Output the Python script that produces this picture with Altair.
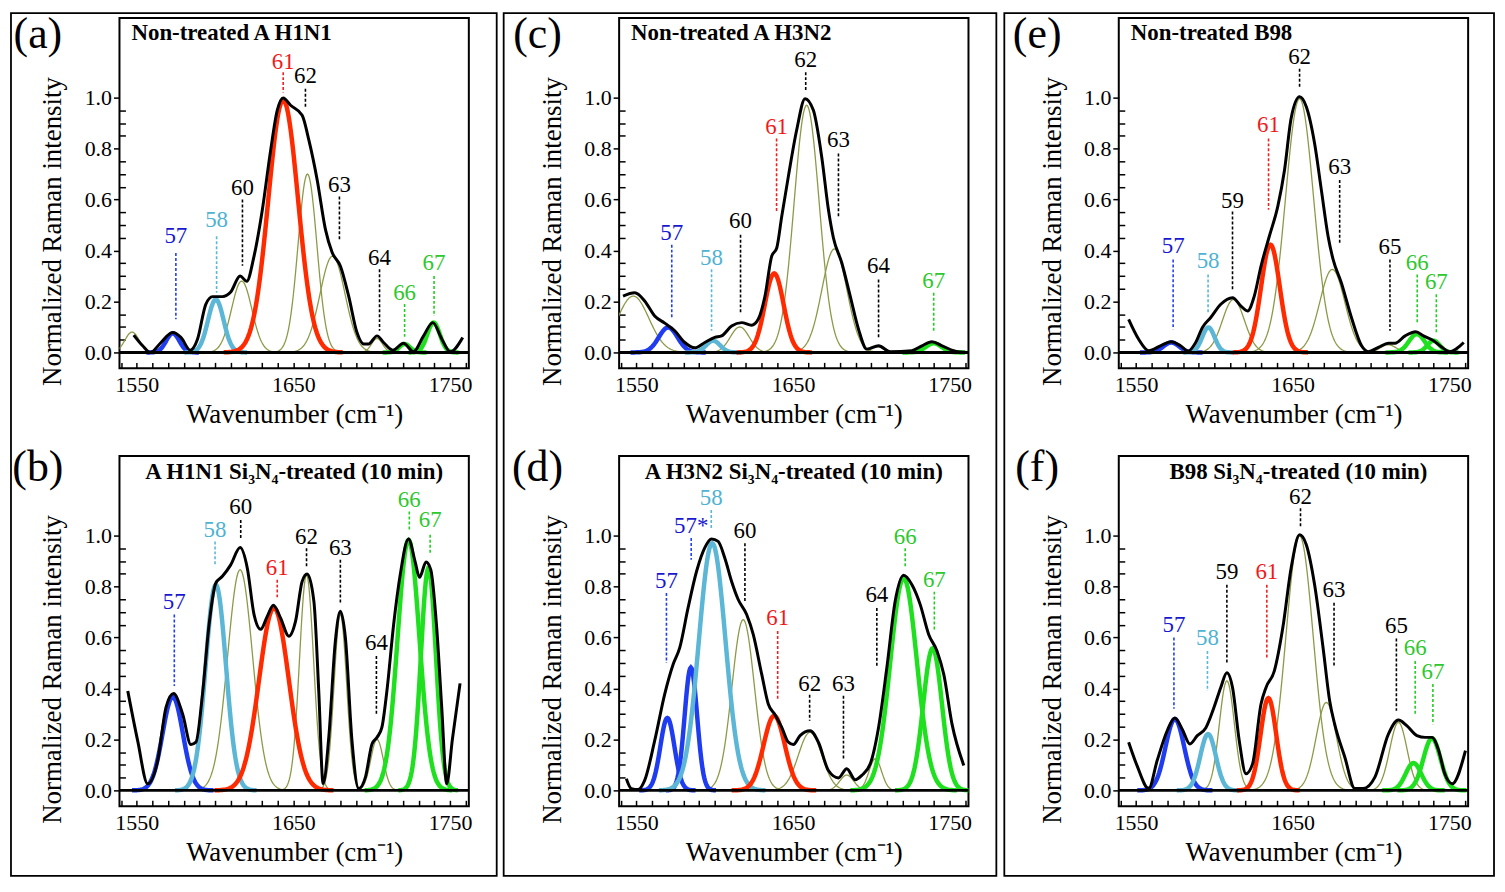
import numpy as np
import pandas as pd
import altair as alt

# ---------------- data ----------------
# Panel (a) Non-treated A H1N1
A_BLACK_X = [1548.1, 1553.8, 1558.7, 1565.5, 1572.9, 1578.2, 1584.2, 1588.8, 1594.1, 1598.4, 1604.7, 1610.0, 1616.0, 1620.2, 1624.9, 1630.2, 1635.5, 1639.7, 1643.5, 1648.2, 1655.6, 1659.9, 1665.2, 1670.5, 1674.7, 1680.0, 1685.3, 1690.6, 1694.9, 1698.0, 1703.4, 1707.6, 1713.5, 1720.3, 1726.7, 1733.1, 1739.0, 1744.8, 1750.1, 1758.1]
A_BLACK_Y = [0.068, 0.026, 0.0, 0.039, 0.078, 0.059, 0.009, 0.052, 0.189, 0.219, 0.219, 0.237, 0.30, 0.279, 0.378, 0.56, 0.794, 0.95, 0.999, 0.97, 0.931, 0.833, 0.677, 0.482, 0.393, 0.339, 0.221, 0.078, 0.033, 0.033, 0.065, 0.039, 0.009, 0.036, 0.003, 0.065, 0.117, 0.052, 0.003, 0.059]
A_PEAK_NAME = ["edge", "57", "58", "60", "61", "62", "63", "64", "66", "67"]
A_PEAK_POS = [1547, 1573, 1600.5, 1617, 1643.5, 1659, 1675, 1703.4, 1721, 1739.5]
A_PEAK_HEIGHT = [0.08, 0.075, 0.208, 0.28, 0.99, 0.70, 0.378, 0.055, 0.033, 0.117]
A_PEAK_WIDTH = [4.5, 4.2, 5.0, 6.5, 9.5, 6.0, 8.0, 3.5, 3.5, 4.0]
A_LABEL_TEXT = ["57", "58", "60", "61", "62", "63", "64", "66", "67"]
A_LABEL_X = [1575, 1601, 1617.5, 1643.5, 1657.7, 1679.4, 1705, 1721, 1739.8]
A_LABEL_TEXT_Y = [0.456, 0.52, 0.645, 1.14, 1.083, 0.657, 0.371, 0.234, 0.352]
A_LABEL_TOP = [0.39, 0.456, 0.60, 1.10, 1.035, 0.612, 0.326, 0.19, 0.30]
A_LABEL_BOTTOM = [0.13, 0.234, 0.34, 1.02, 0.957, 0.436, 0.085, 0.059, 0.143]

# Panel (b) A H1N1 Si3N4-treated
B_BLACK_X = [1544.3, 1550.6, 1557.0, 1563.4, 1568.7, 1573.5, 1579.3, 1584.6, 1587.8, 1592.0, 1596.2, 1600.5, 1604.7, 1610.0, 1616.0, 1620.6, 1624.9, 1629.1, 1633.4, 1637.2, 1641.8, 1647.1, 1651.4, 1655.6, 1658.8, 1663.1, 1666.2, 1669.0, 1672.6, 1676.8, 1680.0, 1683.2, 1687.4, 1691.7, 1696.0, 1700.2, 1703.4, 1706.5, 1709.7, 1714.0, 1718.2, 1723.5, 1727.7, 1730.5, 1734.7, 1737.7, 1741.5, 1744.7, 1747.9, 1751.5, 1756.4]
B_BLACK_Y = [0.39, 0.195, 0.026, 0.117, 0.326, 0.38, 0.30, 0.18, 0.189, 0.378, 0.651, 0.814, 0.84, 0.885, 0.953, 0.872, 0.69, 0.632, 0.684, 0.727, 0.677, 0.605, 0.664, 0.82, 0.849, 0.742, 0.39, 0.026, 0.208, 0.586, 0.703, 0.599, 0.195, 0.007, 0.052, 0.182, 0.208, 0.247, 0.39, 0.651, 0.846, 0.987, 0.898, 0.836, 0.896, 0.866, 0.638, 0.326, 0.026, 0.20, 0.42]
B_PEAK_NAME = ["57", "58", "60", "61", "62", "63", "64", "66", "67"]
B_PEAK_POS = [1573, 1600.5, 1616, 1637.6, 1658.4, 1680, 1703.4, 1723.5, 1736.2]
B_PEAK_HEIGHT = [0.367, 0.807, 0.866, 0.716, 0.846, 0.69, 0.20, 0.983, 0.872]
B_PEAK_WIDTH = [6.5, 6.5, 8.0, 9.5, 4.5, 4.0, 4.0, 7.0, 4.8]
B_LABEL_TEXT = ["57", "58", "60", "61", "62", "63", "64", "66", "67"]
B_LABEL_X = [1574, 1600, 1616.4, 1639.7, 1658.4, 1680, 1703, 1724, 1737.3]
B_LABEL_TEXT_Y = [0.738, 1.022, 1.113, 0.872, 0.996, 0.95, 0.579, 1.139, 1.061]
B_LABEL_TOP = [0.69, 0.977, 1.061, 0.827, 0.95, 0.905, 0.527, 1.094, 1.003]
B_LABEL_BOTTOM = [0.41, 0.885, 0.99, 0.758, 0.872, 0.73, 0.30, 1.022, 0.93]

# Panel (c) Non-treated A H3N2
C_BLACK_X = [1541.5, 1549.0, 1555.3, 1561.7, 1568.1, 1574.5, 1580.9, 1587.3, 1593.7, 1600.1, 1604.4, 1610.8, 1617.2, 1623.6, 1627.8, 1632.1, 1636.4, 1639.6, 1642.8, 1647.0, 1652.3, 1657.7, 1663.0, 1668.3, 1672.6, 1675.8, 1681.1, 1686.5, 1691.8, 1697.1, 1704.6, 1712.0, 1725.9, 1732.3, 1738.7, 1745.1, 1753.6, 1761.1]
C_BLACK_Y = [0.221, 0.234, 0.202, 0.143, 0.115, 0.085, 0.039, 0.018, 0.039, 0.059, 0.065, 0.104, 0.117, 0.107, 0.13, 0.221, 0.378, 0.41, 0.534, 0.69, 0.872, 0.996, 0.95, 0.768, 0.56, 0.449, 0.352, 0.221, 0.091, 0.013, 0.026, 0.003, 0.007, 0.026, 0.042, 0.026, 0.005, 0.0]
C_PEAK_NAME = ["edge", "57", "58", "60", "61", "62", "63", "64", "67"]
C_PEAK_POS = [1548, 1570.3, 1599, 1616, 1638, 1658.7, 1676.4, 1704, 1739.8]
C_PEAK_HEIGHT = [0.221, 0.098, 0.046, 0.10, 0.31, 0.97, 0.406, 0.022, 0.036]
C_PEAK_WIDTH = [10, 6, 4.5, 6, 6, 8, 8, 4, 5]
C_LABEL_TEXT = ["57", "58", "60", "61", "62", "63", "64", "67"]
C_LABEL_X = [1572.6, 1598, 1616.5, 1639.5, 1658.1, 1679, 1704.6, 1739.8]
C_LABEL_TEXT_Y = [0.469, 0.371, 0.514, 0.885, 1.146, 0.833, 0.339, 0.28]
C_LABEL_TOP = [0.423, 0.326, 0.462, 0.84, 1.10, 0.781, 0.286, 0.234]
C_LABEL_BOTTOM = [0.137, 0.085, 0.15, 0.553, 1.022, 0.527, 0.052, 0.078]

# Panel (d) A H3N2 Si3N4-treated
D_BLACK_X = [1543.6, 1546.8, 1551.1, 1555.3, 1561.7, 1568.1, 1573.5, 1577.7, 1583.0, 1588.4, 1593.7, 1598.0, 1602.2, 1606.5, 1610.8, 1615.0, 1620.4, 1624.6, 1630.0, 1634.2, 1638.5, 1642.8, 1647.0, 1650.2, 1654.5, 1660.9, 1666.2, 1672.6, 1679.0, 1684.3, 1689.7, 1693.9, 1699.3, 1704.6, 1709.9, 1715.2, 1720.6, 1725.9, 1731.2, 1736.6, 1741.9, 1746.2, 1751.5, 1759.0]
D_BLACK_Y = [0.046, 0.007, 0.003, 0.039, 0.195, 0.378, 0.495, 0.56, 0.716, 0.859, 0.953, 0.987, 0.977, 0.911, 0.82, 0.749, 0.69, 0.612, 0.456, 0.339, 0.297, 0.247, 0.189, 0.18, 0.215, 0.234, 0.189, 0.078, 0.049, 0.085, 0.042, 0.059, 0.104, 0.247, 0.482, 0.742, 0.844, 0.807, 0.729, 0.612, 0.547, 0.456, 0.26, 0.098]
D_PEAK_NAME = ["57", "57*", "58", "60", "61", "62", "63", "64", "66", "67"]
D_PEAK_POS = [1569.8, 1584.8, 1598.4, 1618.2, 1638, 1660.9, 1684.3, 1702.5, 1720.6, 1739.1]
D_PEAK_HEIGHT = [0.284, 0.482, 0.97, 0.67, 0.293, 0.228, 0.06, 0.124, 0.833, 0.557]
D_PEAK_WIDTH = [4.5, 4.0, 8.5, 7.2, 6.8, 7.5, 4.5, 4.0, 8.5, 6.0]
D_LABEL_TEXT = ["57", "57*", "58", "60", "61", "62", "63", "64", "66", "67"]
D_LABEL_X = [1569.2, 1585, 1597.8, 1619.3, 1640.2, 1660.6, 1682.2, 1703.5, 1721.6, 1740.2]
D_LABEL_TEXT_Y = [0.82, 1.039, 1.146, 1.018, 0.677, 0.419, 0.419, 0.766, 0.996, 0.827]
D_LABEL_TOP = [0.775, 0.99, 1.10, 0.97, 0.625, 0.375, 0.371, 0.716, 0.95, 0.78]
D_LABEL_BOTTOM = [0.50, 0.905, 1.022, 0.742, 0.352, 0.273, 0.117, 0.482, 0.879, 0.625]

# Panel (e) Non-treated B98
E_BLACK_X = [1545.3, 1551.7, 1558.1, 1565.6, 1572.5, 1578.4, 1583.2, 1588.1, 1592.4, 1597.7, 1604.1, 1611.6, 1617.0, 1621.2, 1625.5, 1629.8, 1635.1, 1640.5, 1644.8, 1649.0, 1654.4, 1658.7, 1664.0, 1668.3, 1672.6, 1675.8, 1681.1, 1687.5, 1694.0, 1698.2, 1704.7, 1711.1, 1715.3, 1721.8, 1728.6, 1733.5, 1739.9, 1745.3, 1750.0, 1759.2]
E_BLACK_Y = [0.13, 0.052, 0.007, 0.026, 0.042, 0.026, 0.005, 0.039, 0.098, 0.137, 0.189, 0.215, 0.182, 0.163, 0.221, 0.339, 0.456, 0.573, 0.716, 0.918, 1.003, 0.964, 0.82, 0.638, 0.456, 0.365, 0.273, 0.137, 0.026, 0.003, 0.02, 0.036, 0.036, 0.065, 0.081, 0.065, 0.046, 0.02, 0.003, 0.039]
E_PEAK_NAME = ["57", "58", "59", "61", "62", "63", "65", "66", "67"]
E_PEAK_POS = [1572.5, 1596.2, 1612.2, 1635.8, 1654.4, 1675.3, 1711, 1729.2, 1739.9]
E_PEAK_HEIGHT = [0.039, 0.098, 0.208, 0.423, 0.996, 0.326, 0.03, 0.072, 0.046]
E_PEAK_WIDTH = [5, 4, 7, 6, 9, 8, 5, 5, 4]
E_LABEL_TEXT = ["57", "58", "59", "61", "62", "63", "65", "66", "67"]
E_LABEL_X = [1573.7, 1596, 1611.6, 1634.6, 1654.4, 1680, 1712.1, 1729.5, 1741.7]
E_LABEL_TEXT_Y = [0.417, 0.358, 0.596, 0.892, 1.159, 0.727, 0.414, 0.352, 0.276]
E_LABEL_TOP = [0.365, 0.306, 0.553, 0.84, 1.113, 0.677, 0.365, 0.306, 0.228]
E_LABEL_BOTTOM = [0.091, 0.156, 0.24, 0.56, 1.035, 0.423, 0.085, 0.111, 0.078]

# Panel (f) B98 Si3N4-treated
F_BLACK_X = [1545.3, 1550.6, 1558.1, 1563.5, 1569.9, 1574.8, 1579.5, 1584.4, 1589.1, 1594.5, 1599.8, 1604.1, 1608.0, 1611.6, 1615.9, 1620.2, 1624.4, 1629.8, 1633.0, 1638.3, 1643.7, 1649.0, 1654.4, 1658.7, 1664.0, 1669.4, 1673.6, 1676.8, 1683.3, 1689.7, 1695.0, 1702.5, 1711.1, 1717.5, 1722.8, 1729.3, 1734.6, 1738.9, 1743.2, 1747.1, 1751.8, 1760.3]
F_BLACK_Y = [0.189, 0.098, 0.007, 0.117, 0.234, 0.284, 0.24, 0.182, 0.215, 0.245, 0.326, 0.404, 0.462, 0.404, 0.195, 0.065, 0.104, 0.339, 0.404, 0.469, 0.638, 0.872, 1.003, 0.964, 0.807, 0.56, 0.352, 0.26, 0.13, 0.007, 0.007, 0.052, 0.221, 0.276, 0.254, 0.215, 0.208, 0.208, 0.156, 0.065, 0.026, 0.156]
F_PEAK_NAME = ["57", "58", "59", "61", "62", "63", "65", "66", "67"]
F_PEAK_POS = [1574.8, 1596, 1608, 1634.5, 1654.4, 1671.5, 1717.5, 1727.1, 1738.9]
F_PEAK_HEIGHT = [0.28, 0.221, 0.43, 0.362, 0.999, 0.345, 0.267, 0.107, 0.204]
F_PEAK_WIDTH = [6, 5, 4.8, 5, 8.7, 6.5, 5.5, 5, 5.5]
F_LABEL_TEXT = ["57", "58", "59", "61", "62", "63", "65", "66", "67"]
F_LABEL_X = [1574.2, 1595.6, 1608, 1633.5, 1655, 1676.4, 1716.2, 1728.2, 1739.5]
F_LABEL_TEXT_Y = [0.648, 0.596, 0.857, 0.857, 1.152, 0.788, 0.645, 0.557, 0.466]
F_LABEL_TOP = [0.60, 0.547, 0.807, 0.807, 1.107, 0.736, 0.596, 0.508, 0.417]
F_LABEL_BOTTOM = [0.32, 0.39, 0.497, 0.52, 1.03, 0.482, 0.3125, 0.293, 0.26]

PANEL_TITLES = {
    "a": "Non-treated A H1N1",
    "b": "A H1N1 Si\u2083N\u2084-treated (10 min)",
    "c": "Non-treated A H3N2",
    "d": "A H3N2 Si\u2083N\u2084-treated (10 min)",
    "e": "Non-treated B98",
    "f": "B98 Si\u2083N\u2084-treated (10 min)",
}
X_TICK_LABELS = [1550, 1650, 1750]
Y_TICK_LABELS = [0.0, 0.2, 0.4, 0.6, 0.8, 1.0]

# ---------------- styling ----------------
FONT = "Liberation Serif"
W, H = 351, 352
VSPACE, HSPACE = 88, 151
X_DOMAIN = [1539, 1762]
Y_DOMAIN = [-0.0625, 1.3125]
OLIVE = "#8c9a48"
CURVE_COLORS = {"57": "#1f3cf0", "57*": "#1f3cf0", "58": "#5cb7d6",
                "61": "#ff2a00", "66": "#1fe01f", "67": "#1fe01f"}
LABEL_COLORS = {"57": "#1818d0", "57*": "#1818d0", "58": "#4eb2d2",
                "61": "#f01a1a", "66": "#2cc82c", "67": "#2cc82c"}
DASH_COLORS = {"57": "#2040f0", "57*": "#2040f0", "58": "#5ab8d8",
               "61": "#f02020", "66": "#20d020", "67": "#20d020"}
# column frame boxes (left, right offsets from each column's plot area)
BOX_LEFT = {"a": -109, "c": -116, "e": -115}
BOX_RIGHT = {"a": W + 28, "c": W + 28, "e": W + 26}

xs = alt.Scale(domain=X_DOMAIN, nice=False, zero=False)
ys = alt.Scale(domain=Y_DOMAIN, nice=False, zero=False)

x_main_axis = alt.Axis(orient="bottom", values=X_TICK_LABELS, format="d", ticks=False, domain=False, grid=False,
                       labelFont=FONT, labelFontSize=22, labelColor="black", labelPadding=16,
                       labelBaseline="middle", labelFlush=False, labelOverlap=False,
                       title="Wavenumber (cm\u207b\u00b9)", titleFont=FONT, titleFontSize=27,
                       titleFontWeight="normal", titleColor="black", titleY=46, titleBaseline="middle")
x_minor_axis = alt.Axis(orient="bottom", values=list(range(1540, 1761, 10)), offset=-6, tickSize=6,
                        tickWidth=1.5, tickColor="black", labels=False, domain=False, grid=False, title=None)
y_main_axis = alt.Axis(orient="left", values=Y_TICK_LABELS, format=".1f", tickSize=6, tickWidth=1.5,
                       tickColor="black", domain=False, grid=False, labelFont=FONT, labelFontSize=22,
                       labelColor="black", labelPadding=2, labelFlush=False, labelOverlap=False,
                       title="Normalized Raman intensity", titleFont=FONT, titleFontSize=27,
                       titleFontWeight="normal", titleColor="black", titleX=-67, titleY=214,
                       titleAngle=270, titleAlign="center", titleBaseline="middle")
y_minor_axis = alt.Axis(orient="left", values=[round(0.05 * i, 2) for i in range(1, 20) if i % 4 != 0],
                        offset=-6, tickSize=6, tickWidth=1.5, tickColor="black", labels=False,
                        domain=False, grid=False, title=None)


def build_panel(letter, bx, by, pname, ppos, pheight, pwidth, ltext, lx, lty, ltop, lbot, top_row):
    rows = []
    for n, c, h, s in zip(pname, ppos, pheight, pwidth):
        for g in np.arange(c - 4 * s, c + 4 * s + 0.001, 0.5):
            rows.append({"x": float(g), "y": float(h * np.exp(-(g - c) ** 2 / (2 * s * s))),
                         "comp": n, "thick": n in CURVE_COLORS, "color": CURVE_COLORS.get(n, OLIVE)})
    comp = pd.DataFrame(rows)
    X = lambda f: alt.X(f, scale=xs, axis=None)
    Y = lambda f: alt.Y(f, scale=ys, axis=None)

    thin = alt.Chart(comp[~comp["thick"]]).mark_line(strokeWidth=1.3, clip=True, color=OLIVE).encode(
        x=X("x:Q"), y=Y("y:Q"), detail="comp:N")
    thick = alt.Chart(comp[comp["thick"]]).mark_line(strokeWidth=4.5, clip=True).encode(
        x=X("x:Q"), y=Y("y:Q"), detail="comp:N", color=alt.Color("color:N", scale=None))
    zero = alt.Chart(pd.DataFrame({"y0": [0.0]})).mark_rule(strokeWidth=3, color="black").encode(y=Y("y0:Q"))
    black = alt.Chart(pd.DataFrame({"x": bx, "y": by})).mark_line(
        strokeWidth=3, color="black", interpolate="monotone", clip=True).encode(x=X("x:Q"), y=Y("y:Q"))
    ldf = pd.DataFrame({"text": ltext, "x": lx, "ty": lty, "top": ltop, "bot": lbot,
                        "tc": [LABEL_COLORS.get(t, "black") for t in ltext],
                        "dc": [DASH_COLORS.get(t, "black") for t in ltext]})
    dashes = alt.Chart(ldf).mark_rule(strokeDash=[3, 2], strokeWidth=1.6).encode(
        x=X("x:Q"), y=Y("top:Q"), y2="bot:Q", color=alt.Color("dc:N", scale=None))
    labels = alt.Chart(ldf).mark_text(font=FONT, fontSize=23, align="center", baseline="middle").encode(
        x=X("x:Q"), y=Y("ty:Q"), text="text:N", color=alt.Color("tc:N", scale=None))
    one = pd.DataFrame({"k": [0]})
    if top_row:
        title = alt.Chart(one).mark_text(font=FONT, fontSize=23, fontWeight="bold", align="left",
                                         baseline="middle", color="black").encode(
            x=alt.value(12), y=alt.value(15), text=alt.value(PANEL_TITLES[letter]))
    else:
        title = alt.Chart(one).mark_text(font=FONT, fontSize=23, fontWeight="bold", align="center",
                                         baseline="middle", color="black").encode(
            x=alt.value(W / 2 + (5 if letter == "f" else 0)), y=alt.value(16), text=alt.value(PANEL_TITLES[letter]))
    let = alt.Chart(one).mark_text(font=FONT, fontSize=44, align="center", baseline="middle", color="black").encode(
        x=alt.value(-82), y=alt.value(17 if top_row else 12), text=alt.value("(" + letter + ")"))
    axes_main = alt.Chart(pd.DataFrame({"x": [1600.0], "y": [0.0]})).mark_point(opacity=0).encode(
        x=alt.X("x:Q", scale=xs, axis=x_main_axis), y=alt.Y("y:Q", scale=ys, axis=y_main_axis))
    axes_minor = alt.Chart(pd.DataFrame({"x": [1600.0], "y": [0.0]})).mark_point(opacity=0).encode(
        x=alt.X("x:Q", scale=xs, axis=x_minor_axis), y=alt.Y("y:Q", scale=ys, axis=y_minor_axis))
    layers = [axes_main, axes_minor, thin, thick, zero, black, dashes, labels, title, let]
    if top_row:
        box = alt.Chart(one).mark_rect(fillOpacity=0, stroke="black", strokeWidth=1.8).encode(
            x=alt.value(BOX_LEFT[letter]), x2=alt.value(BOX_RIGHT[letter]),
            y=alt.value(-5), y2=alt.value(H + VSPACE + H + 70))
        layers.append(box)
    return alt.layer(*layers).resolve_axis(x="independent", y="independent").properties(
        width=W, height=H, view=alt.ViewBackground(stroke="black", strokeWidth=2))


pa = build_panel("a", A_BLACK_X, A_BLACK_Y, A_PEAK_NAME, A_PEAK_POS, A_PEAK_HEIGHT, A_PEAK_WIDTH,
                 A_LABEL_TEXT, A_LABEL_X, A_LABEL_TEXT_Y, A_LABEL_TOP, A_LABEL_BOTTOM, True)
pb = build_panel("b", B_BLACK_X, B_BLACK_Y, B_PEAK_NAME, B_PEAK_POS, B_PEAK_HEIGHT, B_PEAK_WIDTH,
                 B_LABEL_TEXT, B_LABEL_X, B_LABEL_TEXT_Y, B_LABEL_TOP, B_LABEL_BOTTOM, False)
pc = build_panel("c", C_BLACK_X, C_BLACK_Y, C_PEAK_NAME, C_PEAK_POS, C_PEAK_HEIGHT, C_PEAK_WIDTH,
                 C_LABEL_TEXT, C_LABEL_X, C_LABEL_TEXT_Y, C_LABEL_TOP, C_LABEL_BOTTOM, True)
pd_ = build_panel("d", D_BLACK_X, D_BLACK_Y, D_PEAK_NAME, D_PEAK_POS, D_PEAK_HEIGHT, D_PEAK_WIDTH,
                  D_LABEL_TEXT, D_LABEL_X, D_LABEL_TEXT_Y, D_LABEL_TOP, D_LABEL_BOTTOM, False)
pe = build_panel("e", E_BLACK_X, E_BLACK_Y, E_PEAK_NAME, E_PEAK_POS, E_PEAK_HEIGHT, E_PEAK_WIDTH,
                 E_LABEL_TEXT, E_LABEL_X, E_LABEL_TEXT_Y, E_LABEL_TOP, E_LABEL_BOTTOM, True)
pf = build_panel("f", F_BLACK_X, F_BLACK_Y, F_PEAK_NAME, F_PEAK_POS, F_PEAK_HEIGHT, F_PEAK_WIDTH,
                 F_LABEL_TEXT, F_LABEL_X, F_LABEL_TEXT_Y, F_LABEL_TOP, F_LABEL_BOTTOM, False)

chart = alt.concat(pa, pc, pe, pb, pd_, pf, columns=3,
                   spacing={"row": VSPACE, "column": HSPACE}, bounds="flush").properties(
    padding=1
).configure(background="white").configure_view(stroke="black", strokeWidth=2)

chart.save("out.html", embed_options={"renderer": "svg", "actions": False})
